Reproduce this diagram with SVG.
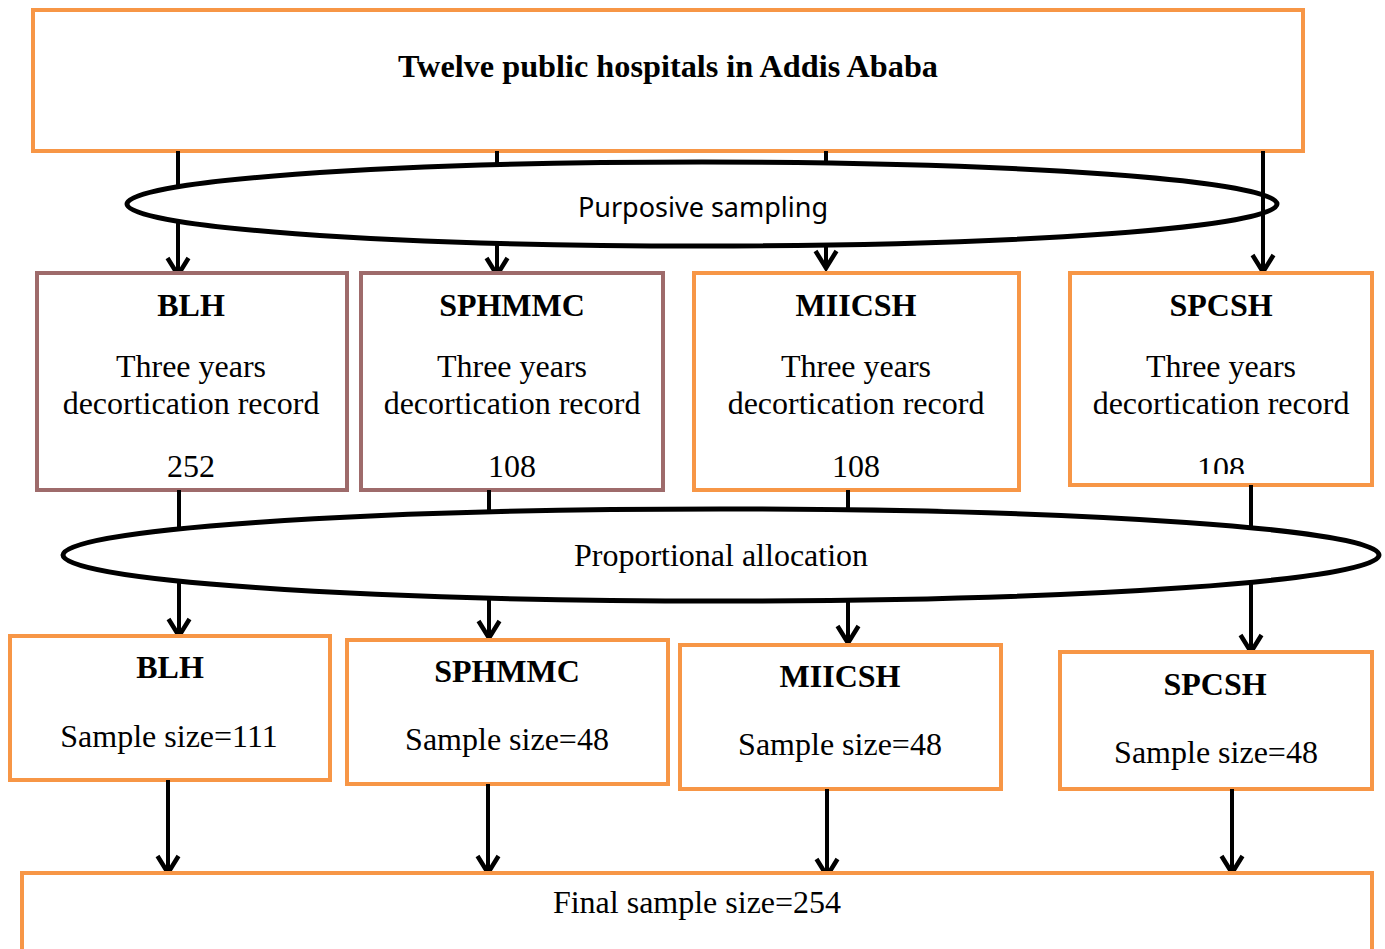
<svg xmlns="http://www.w3.org/2000/svg" width="1385" height="949" viewBox="0 0 1385 949">
<style>
.box{fill:#fff;stroke:#F79646;stroke-width:4}
.boxm{fill:#fff;stroke:#9E6B6B;stroke-width:4}
.ell{fill:#fff;stroke:#000;stroke-width:5}
.ln{stroke:#000;stroke-width:4;fill:none}
.arr{stroke:#000;stroke-width:4;fill:none;marker-end:url(#ah)}
.t{font-family:"Liberation Serif","Times New Roman",serif;font-size:32px;fill:#000;text-anchor:middle}
.b{font-weight:bold}
.s{font-family:"Noto Sans","Open Sans",sans-serif;font-size:27px;fill:#000;text-anchor:middle}
</style>
<defs>
<marker id="ah" markerUnits="userSpaceOnUse" viewBox="-2 -14 24 28" refX="19" refY="0" markerWidth="24" markerHeight="28" orient="auto">
<path d="M2,-10.5 L19,0 L2,10.5" fill="none" stroke="#000" stroke-width="4.5" stroke-linejoin="miter"/>
</marker>
<clipPath id="clip108"><rect x="1070" y="273" width="302" height="201"/></clipPath>
</defs>

<g id="top">
<rect class="box" x="33" y="10" width="1270" height="141"/>
<text class="t b" x="668" y="77" font-size="33" textLength="540" lengthAdjust="spacingAndGlyphs">Twelve public hospitals in Addis Ababa</text>
</g>

<g id="connectors-top">
<line class="arr" x1="178" y1="151" x2="178" y2="275"/>
<line class="arr" x1="497" y1="151" x2="497" y2="275"/>
<line class="arr" x1="826" y1="151" x2="826" y2="268"/>
</g>

<g id="purposive">
<ellipse class="ell" cx="702" cy="204" rx="575" ry="42"/>
<text class="s" x="703" y="217">Purposive sampling</text>
</g>

<g id="connectors-top2">
<line class="arr" x1="1263" y1="151" x2="1263" y2="272"/>
</g>

<g id="blh1">
<rect class="boxm" x="37" y="273" width="310" height="217"/>
<text class="t b" x="191" y="316">BLH</text>
<text class="t" x="191" y="377">Three years</text>
<text class="t" x="191" y="414">decortication record</text>
<text class="t" x="191" y="477">252</text>
</g>
<g id="sphmmc1">
<rect class="boxm" x="361" y="273" width="302" height="217"/>
<text class="t b" x="512" y="316">SPHMMC</text>
<text class="t" x="512" y="377">Three years</text>
<text class="t" x="512" y="414">decortication record</text>
<text class="t" x="512" y="477">108</text>
</g>
<g id="miicsh1">
<rect class="box" x="694" y="273" width="325" height="217"/>
<text class="t b" x="856" y="316">MIICSH</text>
<text class="t" x="856" y="377">Three years</text>
<text class="t" x="856" y="414">decortication record</text>
<text class="t" x="856" y="477">108</text>
</g>
<g id="spcsh1">
<rect class="box" x="1070" y="273" width="302" height="212"/>
<text class="t b" x="1221" y="316">SPCSH</text>
<text class="t" x="1221" y="377">Three years</text>
<text class="t" x="1221" y="414">decortication record</text>
<text class="t" x="1221" y="479" clip-path="url(#clip108)">108</text>
</g>

<g id="connectors-mid">
<line class="arr" x1="179" y1="490" x2="179" y2="636"/>
<line class="arr" x1="489" y1="490" x2="489" y2="638"/>
<line class="arr" x1="848" y1="490" x2="848" y2="643"/>
<line class="arr" x1="1251" y1="485" x2="1251" y2="652"/>
</g>

<g id="proportional">
<ellipse class="ell" cx="721" cy="555" rx="658" ry="46"/>
<text class="t" x="721" y="566">Proportional allocation</text>
</g>

<g id="connectors-mid2">
<line class="ln" x1="179" y1="601" x2="179" y2="625"/>
<line class="ln" x1="1251" y1="585" x2="1251" y2="640"/>
</g>

<g id="blh2">
<rect class="box" x="10" y="636" width="320" height="144"/>
<text class="t b" x="170" y="678">BLH</text>
<text class="t" x="169" y="747">Sample size=111</text>
</g>
<g id="sphmmc2">
<rect class="box" x="347" y="640" width="321" height="144"/>
<text class="t b" x="507" y="682">SPHMMC</text>
<text class="t" x="507" y="750">Sample size=48</text>
</g>
<g id="miicsh2">
<rect class="box" x="680" y="645" width="321" height="144"/>
<text class="t b" x="840" y="687">MIICSH</text>
<text class="t" x="840" y="755">Sample size=48</text>
</g>
<g id="spcsh2">
<rect class="box" x="1060" y="652" width="312" height="137"/>
<text class="t b" x="1215" y="695">SPCSH</text>
<text class="t" x="1216" y="763">Sample size=48</text>
</g>

<g id="connectors-bottom">
<line class="arr" x1="168" y1="780" x2="168" y2="873"/>
<line class="arr" x1="488" y1="784" x2="488" y2="873"/>
<line class="arr" x1="827" y1="789" x2="827" y2="876"/>
<line class="arr" x1="1232" y1="789" x2="1232" y2="873"/>
</g>

<g id="final">
<rect class="box" x="22" y="873" width="1350" height="100"/>
<text class="t" x="697" y="913">Final sample size=254</text>
</g>
</svg>
